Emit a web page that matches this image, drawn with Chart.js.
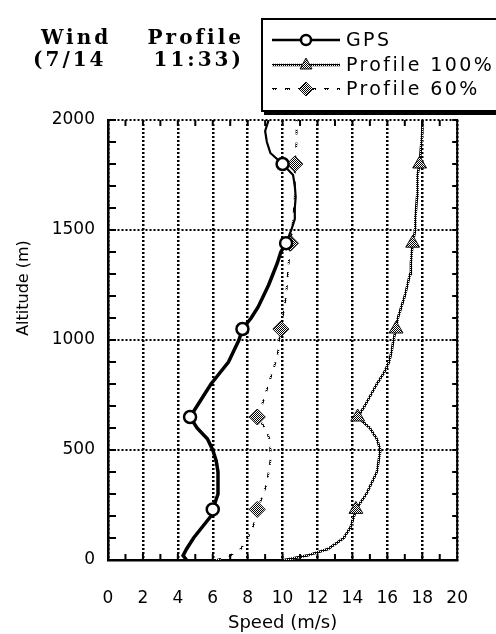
<!DOCTYPE html>
<html>
<head>
<meta charset="utf-8">
<title>Wind Profile</title>
<script src="https://cdn.jsdelivr.net/npm/chart.js"></script>
<style>
  html, body { margin: 0; padding: 0; background: #fff; }
  canvas { display: block; }
</style>
</head>
<body>
<canvas id="windChart" width="496" height="634"></canvas>
<script>
// --- data (altitude in m, speed in m/s) ---
const altitudes = [0, 20, 50, 100, 150, 200, 230, 300, 350, 400, 450, 500, 550, 600, 650, 700,
  750, 800, 850, 900, 950, 1000, 1050, 1100, 1150, 1200, 1250, 1300, 1350, 1400, 1440, 1500,
  1550, 1600, 1650, 1700, 1750, 1800, 1850, 1900, 1950, 2000];

const gpsSpeed = [4.5, 4.3, 4.5, 4.9, 5.4, 5.9, 6.0, 6.3, 6.3, 6.3, 6.2, 6.0, 5.7, 5.1, 4.7, 5.1,
  5.5, 5.9, 6.4, 6.9, 7.2, 7.5, 7.7, 8.2, 8.6, 8.9, 9.2, 9.45, 9.7, 9.9, 10.2, 10.5,
  10.7, 10.7, 10.75, 10.7, 10.6, 10.0, 9.3, 9.1, 9.0, 9.2];

const profile100Speed = [10.1, 11.4, 12.6, 13.5, 13.9, 14.1, 14.2, 14.8, 15.1, 15.4, 15.5, 15.6, 15.4, 15.0, 14.3, 14.7,
  15.05, 15.4, 15.8, 16.1, 16.25, 16.35, 16.5, 16.6, 16.8, 17.0, 17.15, 17.3, 17.35, 17.4, 17.45, 17.6,
  17.6, 17.65, 17.7, 17.7, 17.75, 17.85, 17.9, 17.95, 18.0, 18.0];

const profile60Speed = [6.2, 7.0, 7.6, 8.0, 8.3, 8.5, 8.55, 8.9, 9.1, 9.2, 9.3, 9.3, 9.25, 9.0, 8.55, 8.8,
  9.0, 9.2, 9.4, 9.6, 9.75, 9.8, 9.9, 10.0, 10.1, 10.2, 10.25, 10.3, 10.35, 10.4, 10.45, 10.55,
  10.6, 10.65, 10.7, 10.7, 10.7, 10.7, 10.75, 10.8, 10.8, 10.8];

// altitudes where the symbols are plotted
const markerAltitudes = [230, 650, 1050, 1440, 1800];

const speedTicks = [0, 20, 2];      // min, max, step
const altitudeTicks = [0, 2000, 500];

// --- helpers ---
const toPoints = (speeds) => altitudes.map((a, i) => ({ x: speeds[i], y: a }));

// small checker patterns: light one for symbol fill, dark one for the stippled line
const makePattern = (cells) => {
  const c = document.createElement('canvas');
  c.width = 2; c.height = 2;
  const g = c.getContext('2d');
  g.fillStyle = '#fff'; g.fillRect(0, 0, 2, 2);
  g.fillStyle = '#000';
  cells.forEach(([px, py]) => g.fillRect(px, py, 1, 1));
  return g.createPattern(c, 'repeat');
};
const hatch = makePattern([[0, 0], [1, 1]]);
const stipple = makePattern([[0, 0], [1, 1], [1, 0]]);

const markerRadius = (r) => (ctx) => (ctx.raw && markerAltitudes.includes(ctx.raw.y) ? r : 0);

const datasets = [
  {
    label: 'GPS',
    data: toPoints(gpsSpeed),
    borderColor: '#000',
    borderWidth: 3.5,
    segment: { borderWidth: (ctx) => (ctx.p0.parsed.y >= 1440 ? 2.2 : 3.5) },
    pointStyle: 'circle',
    pointRadius: markerRadius(6),
    pointBackgroundColor: '#fff',
    pointBorderColor: '#000',
    pointBorderWidth: 2.5
  },
  {
    label: 'Profile 100%',
    data: toPoints(profile100Speed),
    borderColor: stipple,
    borderWidth: 2.5,
    pointStyle: 'triangle',
    pointRadius: markerRadius(8),
    pointBackgroundColor: hatch,
    pointBorderColor: '#111',
    pointBorderWidth: 1
  },
  {
    label: 'Profile 60%',
    data: toPoints(profile60Speed),
    borderColor: stipple,
    borderWidth: 1.8,
    borderDash: [5, 8],
    pointStyle: 'rectRot',
    pointRadius: markerRadius(8),
    pointBackgroundColor: hatch,
    pointBorderColor: '#111',
    pointBorderWidth: 1
  }
];

// --- frame, minor ticks, title, legend ---
const decorPlugin = {
  id: 'decor',
  afterDraw(chart) {
    const { ctx, chartArea: a, scales: { x, y } } = chart;
    ctx.save();
    ctx.strokeStyle = '#000';
    ctx.lineWidth = 2;
    ctx.beginPath();
    ctx.moveTo(a.right, a.top - 1);
    ctx.lineTo(a.right, a.bottom + 1);
    for (let v = 0; v <= altitudeTicks[1]; v += 100) {
      const py = y.getPixelForValue(v);
      ctx.moveTo(a.left, py); ctx.lineTo(a.left + 8, py);
      ctx.moveTo(a.right, py); ctx.lineTo(a.right - 5, py);
    }
    for (let v = 0; v <= speedTicks[1]; v += 1) {
      const px = x.getPixelForValue(v);
      ctx.moveTo(px, a.bottom); ctx.lineTo(px, a.bottom - 6);
      ctx.moveTo(px, a.top); ctx.lineTo(px, a.top + 6);
    }
    ctx.stroke();

    // y axis title
    ctx.fillStyle = '#000';
    ctx.font = '16px "DejaVu Sans"';
    ctx.textAlign = 'center';
    ctx.textBaseline = 'middle';
    ctx.translate(24, 288);
    ctx.rotate(-Math.PI / 2);
    ctx.fillText('Altitude (m)', 0, 0);
    ctx.setTransform(1, 0, 0, 1, 0, 0);

    // chart title
    ctx.font = 'bold 20px "DejaVu Serif"';
    ctx.letterSpacing = '3px';
    ctx.textAlign = 'left';
    ctx.fillText('Wind', 41, 39);
    ctx.fillText('(7/14', 33, 61);
    ctx.textAlign = 'right';
    ctx.fillText('Profile', 244, 39);
    ctx.fillText('11:33)', 244, 61);

    // legend box with heavy bottom edge
    ctx.lineWidth = 2;
    ctx.strokeRect(262, 19, 250, 92);
    ctx.fillRect(264, 110, 240, 5);

    ctx.font = '19px "DejaVu Sans"';
    ctx.letterSpacing = '2.4px';
    ctx.textAlign = 'left';
    const rows = [40, 65, 89];
    datasets.forEach((ds, i) => {
      const ry = rows[i];
      ctx.save();
      ctx.strokeStyle = ds.borderColor;
      ctx.lineWidth = i === 0 ? 2.5 : ds.borderWidth;
      ctx.setLineDash(ds.borderDash || []);
      ctx.beginPath();
      ctx.moveTo(272, ry); ctx.lineTo(340, ry);
      ctx.stroke();
      ctx.restore();
      drawSymbol(ctx, ds, 306, ry);
      ctx.fillStyle = '#000';
      ctx.fillText(ds.label, 346, ry + 1);
    });
    ctx.restore();
  }
};

function drawSymbol(ctx, ds, cx, cy) {
  ctx.save();
  ctx.fillStyle = ds.pointBackgroundColor;
  ctx.strokeStyle = ds.pointBorderColor;
  ctx.lineWidth = ds.pointBorderWidth;
  ctx.setLineDash([]);
  ctx.beginPath();
  if (ds.pointStyle === 'circle') {
    ctx.arc(cx, cy, 5, 0, Math.PI * 2);
  } else if (ds.pointStyle === 'triangle') {
    ctx.moveTo(cx, cy - 7); ctx.lineTo(cx + 6, cy + 4); ctx.lineTo(cx - 6, cy + 4);
  } else {
    ctx.moveTo(cx, cy - 7); ctx.lineTo(cx + 7, cy); ctx.lineTo(cx, cy + 7); ctx.lineTo(cx - 7, cy);
  }
  ctx.closePath();
  ctx.fill();
  ctx.stroke();
  ctx.restore();
}

const plainNumber = (v) => String(v);

// --- chart ---
new Chart(document.getElementById('windChart'), {
  type: 'scatter',
  data: { datasets },
  options: {
    responsive: false,
    animation: false,
    showLine: true,
    layout: { padding: { top: 120, right: 27, left: 0, bottom: 0 } },
    plugins: { legend: { display: false }, tooltip: { enabled: false } },
    elements: { line: { tension: 0 } },
    scales: {
      x: {
        type: 'linear',
        min: speedTicks[0], max: speedTicks[1],
        afterFit: (s) => { s.height = 74; },
        ticks: { stepSize: speedTicks[2], color: '#000', padding: 28, callback: plainNumber, font: { family: 'DejaVu Sans', size: 17 } },
        grid: { color: '#000', lineWidth: 2.5, drawTicks: false },
        border: { display: true, color: '#000', width: 2.5, dash: [2, 2] },
        title: { display: true, text: 'Speed (m/s)', color: '#000', padding: 0, font: { family: 'DejaVu Sans', size: 18 } }
      },
      y: {
        type: 'linear',
        min: altitudeTicks[0], max: altitudeTicks[1],
        afterFit: (s) => { s.width = 108; },
        ticks: { stepSize: altitudeTicks[2], color: '#000', padding: 13, callback: plainNumber, font: { family: 'DejaVu Sans', size: 17 } },
        grid: { color: '#000', lineWidth: 2, drawTicks: false },
        border: { display: true, color: '#000', width: 2.5, dash: [2, 2] }
      }
    }
  },
  plugins: [decorPlugin]
});
</script>
</body>
</html>
